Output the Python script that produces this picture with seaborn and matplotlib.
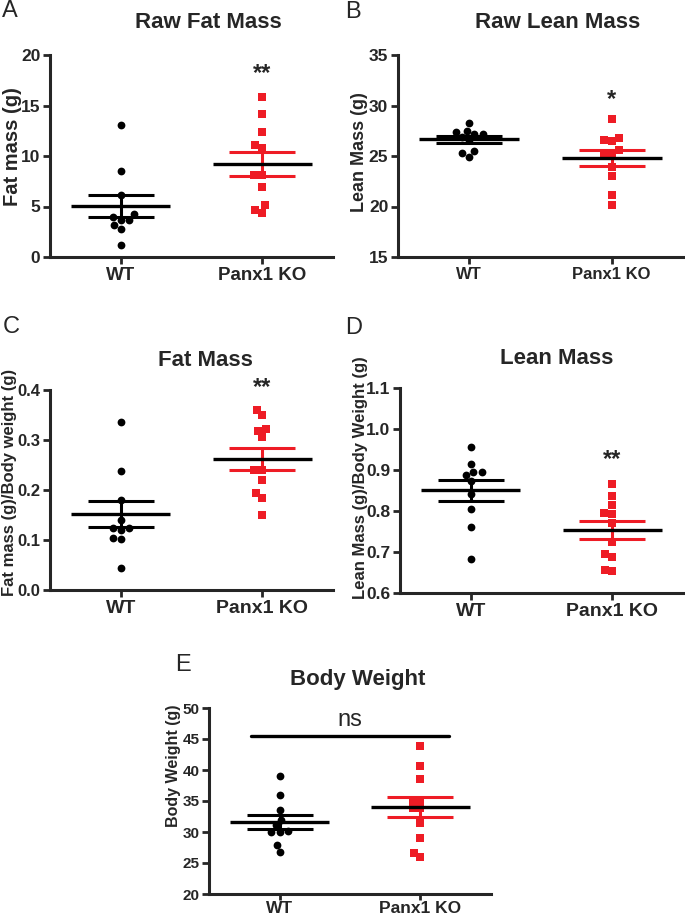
import matplotlib
matplotlib.use("Agg")
import matplotlib.pyplot as plt
import numpy as np
import pandas as pd
import seaborn as sns

GROUPS = ["WT", "Panx1 KO"]

# values, one list per group and panel
fat_wt = [13.1, 8.5, 6.1, 4.3, 3.7, 3.7, 4.0, 3.2, 2.8, 1.2]
fat_ko = [15.8, 14.2, 12.4, 11.1, 10.8, 8.1, 8.1, 6.9, 5.1, 4.4, 4.7]

lean_wt = [28.3, 27.5, 27.2, 27.4, 27.2, 26.9, 26.6, 25.5, 25.3, 24.9]
lean_ko = [28.7, 26.6, 25.6, 26.5, 26.8, 25.3, 25.3, 23.9, 23.0, 21.1, 20.1]

fat_ratio_wt = [0.335, 0.237, 0.18, 0.14, 0.125, 0.125, 0.121, 0.105, 0.102, 0.045]
fat_ratio_ko = [0.36, 0.349, 0.321, 0.318, 0.305, 0.24, 0.24, 0.219, 0.193, 0.183, 0.151]

lean_ratio_wt = [0.957, 0.915, 0.894, 0.894, 0.887, 0.872, 0.841, 0.806, 0.761, 0.682]
lean_ratio_ko = [0.866, 0.837, 0.815, 0.792, 0.794, 0.770, 0.725, 0.696, 0.687, 0.653, 0.657]

bw_wt = [39.0, 36.0, 33.6, 32.0, 31.1, 30.0, 30.0, 30.1, 27.9, 26.7]
bw_ko = [43.8, 40.7, 38.5, 35.2, 35.2, 33.9, 33.9, 31.5, 29.1, 26.0, 26.6]

RED = "#ee1c25"

sns.set_style("ticks")
plt.rcParams["font.family"] = ["Liberation Sans", "DejaVu Sans"]

W, H = 685, 918
fig = plt.figure(figsize=(W / 100, H / 100), dpi=100)


# Adds axes from pixel box (left, top, right, bottom)
def px_axes(x0, y0, x1, y1):
    return fig.add_axes([x0 / W, 1 - y1 / H, (x1 - x0) / W, (y1 - y0) / H])


# Puts figure text at pixel position
def ftext(x, y, s, **kw):
    fig.text(x / W, 1 - y / H, s, **kw)


# Draws one dot plot panel with mean and SEM
def draw_panel(ax, wt, ko, ylim, step, fmt, xfs, yfs=12.5):
    df = pd.DataFrame({
        "group": ["WT"] * len(wt) + ["Panx1 KO"] * len(ko),
        "value": wt + ko,
    })
    sns.swarmplot(data=df[df["group"] == "WT"], x="group", y="value", order=GROUPS,
                  color="black", marker="o", size=5.6, linewidth=0, ax=ax, zorder=2)
    sns.swarmplot(data=df[df["group"] == "Panx1 KO"], x="group", y="value", order=GROUPS,
                  color=RED, marker="s", size=5.4, linewidth=0, ax=ax, zorder=2)

    for i, (vals, c) in enumerate([(wt, "black"), (ko, RED)]):
        m = np.mean(vals)
        sem = np.std(vals, ddof=1) / np.sqrt(len(vals))
        ax.errorbar(i, m, yerr=sem, color=c, capsize=24, capthick=2.2,
                    elinewidth=2.2, fmt="none", zorder=3)
        ax.hlines(m, i - 0.35, i + 0.35, color="black", lw=2.4, zorder=4)

    ax.set_xlim(-0.5, 1.5)
    ax.set_ylim(*ylim)
    ticks = np.arange(ylim[0], ylim[1] + step / 2, step)
    ax.set_yticks(ticks)
    ax.set_yticklabels([fmt.format(t) for t in ticks], fontweight="bold", fontsize=yfs)
    ax.set_xticks([0, 1])
    ax.set_xticklabels(GROUPS, fontweight="bold", fontsize=xfs)
    ax.set_xlabel("")
    ax.set_ylabel("")
    sns.despine(ax=ax)
    for s in ["left", "bottom"]:
        ax.spines[s].set_linewidth(2.2)
    ax.tick_params(width=2.0, length=5, pad=2)


ax_a = px_axes(50, 55, 333, 257)
draw_panel(ax_a, fat_wt, fat_ko, (0, 20), 5, "{:.0f}", 13.5)
ax_a.text(1, 18.2, "**", ha="center", va="center", fontsize=17, fontweight="bold")

ax_b = px_axes(398, 55, 683, 257)
draw_panel(ax_b, lean_wt, lean_ko, (15, 35), 5, "{:.0f}", 12)
ax_b.text(1, 30.6, "*", ha="center", va="center", fontsize=17, fontweight="bold")

ax_c = px_axes(50, 390, 333, 590)
draw_panel(ax_c, fat_ratio_wt, fat_ratio_ko, (0, 0.4), 0.1, "{:.1f}", 14, yfs=12)
ax_c.text(1, 0.405, "**", ha="center", va="center", fontsize=17, fontweight="bold", clip_on=False)

ax_d = px_axes(400, 388, 683, 593)
draw_panel(ax_d, lean_ratio_wt, lean_ratio_ko, (0.6, 1.1), 0.1, "{:.1f}", 14)
ax_d.text(1, 0.925, "**", ha="center", va="center", fontsize=17, fontweight="bold")

ax_e = px_axes(209, 708, 491, 894)
draw_panel(ax_e, bw_wt, bw_ko, (20, 50), 5, "{:.0f}", 12.5, yfs=11)
ax_e.tick_params(axis="x", length=4, pad=1)
ax_e.plot([-0.2, 1.2], [45.5, 45.5], color="black", lw=2.4)
ax_e.text(0.5, 48.0, "ns", ha="center", va="center", fontsize=17)

# panel titles
ftext(208, 23, "Raw Fat Mass", ha="center", va="center", fontsize=16, fontweight="bold")
ftext(558, 23, "Raw Lean Mass", ha="center", va="center", fontsize=16, fontweight="bold")
ftext(205, 361, "Fat Mass", ha="center", va="center", fontsize=16, fontweight="bold")
ftext(557, 358, "Lean Mass", ha="center", va="center", fontsize=16, fontweight="bold")
ftext(358, 680, "Body Weight", ha="center", va="center", fontsize=16, fontweight="bold")

# y axis labels
ftext(12, 147, "Fat mass (g)", rotation=90, ha="center", va="center", fontsize=14.5, fontweight="bold")
ftext(360, 152, "Lean Mass (g)", rotation=90, ha="center", va="center", fontsize=13, fontweight="bold")
ftext(10, 482, "Fat mass (g)/Body weight (g)", rotation=90, ha="center", va="center", fontsize=12, fontweight="bold")
ftext(360, 478, "Lean Mass (g)/Body Weight (g)", rotation=90, ha="center", va="center", fontsize=12, fontweight="bold")
ftext(174, 766, "Body Weight (g)", rotation=90, ha="center", va="center", fontsize=11.5, fontweight="bold")

# panel letters
for letter, x, y in [("A", 2, 11), ("B", 345, 12), ("C", 3, 327), ("D", 345, 328), ("E", 175, 665)]:
    ftext(x, y, letter, ha="left", va="center", fontsize=17)

fig.savefig("out.png", dpi=100)
